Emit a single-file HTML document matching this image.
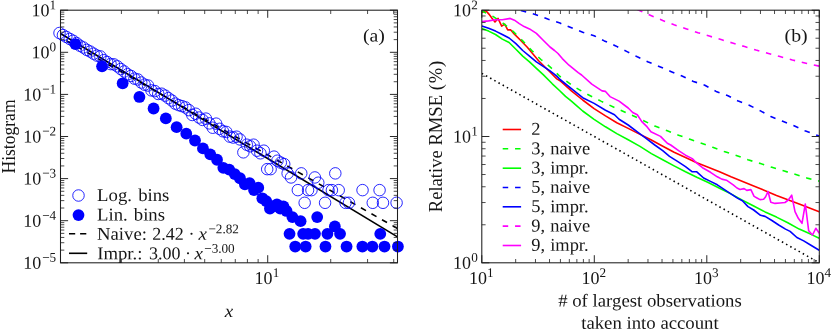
<!DOCTYPE html>
<html><head><meta charset="utf-8"><title>plot</title>
<style>
html,body{margin:0;padding:0;background:#fff;}
body{width:831px;height:330px;overflow:hidden;font-family:"Liberation Serif", serif;}
svg{display:block;will-change:transform;font-family:"Liberation Serif", serif;}
text{fill:#161616;}
</style></head><body>
<svg width="831" height="330" viewBox="0 0 831 330">
<rect width="831" height="330" fill="#fff"/>
<clipPath id="cl"><rect x="60.5" y="10.2" width="337.0" height="252.60000000000002"/></clipPath>
<g clip-path="url(#cl)">
<line x1="60.5" y1="37.33" x2="397.5" y2="228.49" stroke="#000" stroke-width="1.6" stroke-dasharray="5.8 6.3" stroke-dashoffset="5.5"/>
<line x1="60.5" y1="33.48" x2="397.5" y2="236.84" stroke="#000" stroke-width="1.6"/>
</g>
<circle cx="59.50" cy="33.00" r="5.75" fill="none" stroke="#0000ff" stroke-width="0.85"/>
<circle cx="62.91" cy="35.07" r="5.75" fill="none" stroke="#0000ff" stroke-width="0.85"/>
<circle cx="66.31" cy="36.91" r="5.75" fill="none" stroke="#0000ff" stroke-width="0.85"/>
<circle cx="69.72" cy="38.93" r="5.75" fill="none" stroke="#0000ff" stroke-width="0.85"/>
<circle cx="73.12" cy="40.73" r="5.75" fill="none" stroke="#0000ff" stroke-width="0.85"/>
<circle cx="76.53" cy="43.06" r="5.75" fill="none" stroke="#0000ff" stroke-width="0.85"/>
<circle cx="79.93" cy="45.71" r="5.75" fill="none" stroke="#0000ff" stroke-width="0.85"/>
<circle cx="83.33" cy="47.47" r="5.75" fill="none" stroke="#0000ff" stroke-width="0.85"/>
<circle cx="86.74" cy="49.86" r="5.75" fill="none" stroke="#0000ff" stroke-width="0.85"/>
<circle cx="90.14" cy="51.51" r="5.75" fill="none" stroke="#0000ff" stroke-width="0.85"/>
<circle cx="93.55" cy="53.66" r="5.75" fill="none" stroke="#0000ff" stroke-width="0.85"/>
<circle cx="96.95" cy="55.59" r="5.75" fill="none" stroke="#0000ff" stroke-width="0.85"/>
<circle cx="100.36" cy="56.41" r="5.75" fill="none" stroke="#0000ff" stroke-width="0.85"/>
<circle cx="103.77" cy="60.19" r="5.75" fill="none" stroke="#0000ff" stroke-width="0.85"/>
<circle cx="107.17" cy="62.01" r="5.75" fill="none" stroke="#0000ff" stroke-width="0.85"/>
<circle cx="110.57" cy="64.08" r="5.75" fill="none" stroke="#0000ff" stroke-width="0.85"/>
<circle cx="113.98" cy="64.38" r="5.75" fill="none" stroke="#0000ff" stroke-width="0.85"/>
<circle cx="117.38" cy="66.33" r="5.75" fill="none" stroke="#0000ff" stroke-width="0.85"/>
<circle cx="120.79" cy="69.07" r="5.75" fill="none" stroke="#0000ff" stroke-width="0.85"/>
<circle cx="124.19" cy="71.48" r="5.75" fill="none" stroke="#0000ff" stroke-width="0.85"/>
<circle cx="127.60" cy="74.26" r="5.75" fill="none" stroke="#0000ff" stroke-width="0.85"/>
<circle cx="131.00" cy="75.98" r="5.75" fill="none" stroke="#0000ff" stroke-width="0.85"/>
<circle cx="134.41" cy="78.61" r="5.75" fill="none" stroke="#0000ff" stroke-width="0.85"/>
<circle cx="137.81" cy="79.45" r="5.75" fill="none" stroke="#0000ff" stroke-width="0.85"/>
<circle cx="141.22" cy="82.52" r="5.75" fill="none" stroke="#0000ff" stroke-width="0.85"/>
<circle cx="144.62" cy="84.68" r="5.75" fill="none" stroke="#0000ff" stroke-width="0.85"/>
<circle cx="148.03" cy="85.53" r="5.75" fill="none" stroke="#0000ff" stroke-width="0.85"/>
<circle cx="151.44" cy="90.40" r="5.75" fill="none" stroke="#0000ff" stroke-width="0.85"/>
<circle cx="154.84" cy="91.09" r="5.75" fill="none" stroke="#0000ff" stroke-width="0.85"/>
<circle cx="158.25" cy="93.97" r="5.75" fill="none" stroke="#0000ff" stroke-width="0.85"/>
<circle cx="161.65" cy="93.71" r="5.75" fill="none" stroke="#0000ff" stroke-width="0.85"/>
<circle cx="165.06" cy="95.58" r="5.75" fill="none" stroke="#0000ff" stroke-width="0.85"/>
<circle cx="168.46" cy="98.15" r="5.75" fill="none" stroke="#0000ff" stroke-width="0.85"/>
<circle cx="171.87" cy="100.53" r="5.75" fill="none" stroke="#0000ff" stroke-width="0.85"/>
<circle cx="175.27" cy="103.64" r="5.75" fill="none" stroke="#0000ff" stroke-width="0.85"/>
<circle cx="178.68" cy="105.15" r="5.75" fill="none" stroke="#0000ff" stroke-width="0.85"/>
<circle cx="182.08" cy="106.17" r="5.75" fill="none" stroke="#0000ff" stroke-width="0.85"/>
<circle cx="185.49" cy="107.42" r="5.75" fill="none" stroke="#0000ff" stroke-width="0.85"/>
<circle cx="188.89" cy="110.13" r="5.75" fill="none" stroke="#0000ff" stroke-width="0.85"/>
<circle cx="192.29" cy="114.98" r="5.75" fill="none" stroke="#0000ff" stroke-width="0.85"/>
<circle cx="195.70" cy="113.73" r="5.75" fill="none" stroke="#0000ff" stroke-width="0.85"/>
<circle cx="199.10" cy="117.53" r="5.75" fill="none" stroke="#0000ff" stroke-width="0.85"/>
<circle cx="202.51" cy="119.90" r="5.75" fill="none" stroke="#0000ff" stroke-width="0.85"/>
<circle cx="205.91" cy="118.61" r="5.75" fill="none" stroke="#0000ff" stroke-width="0.85"/>
<circle cx="209.32" cy="123.37" r="5.75" fill="none" stroke="#0000ff" stroke-width="0.85"/>
<circle cx="212.72" cy="127.72" r="5.75" fill="none" stroke="#0000ff" stroke-width="0.85"/>
<circle cx="216.13" cy="123.64" r="5.75" fill="none" stroke="#0000ff" stroke-width="0.85"/>
<circle cx="219.53" cy="128.83" r="5.75" fill="none" stroke="#0000ff" stroke-width="0.85"/>
<circle cx="222.94" cy="131.29" r="5.75" fill="none" stroke="#0000ff" stroke-width="0.85"/>
<circle cx="226.34" cy="131.95" r="5.75" fill="none" stroke="#0000ff" stroke-width="0.85"/>
<circle cx="229.75" cy="136.60" r="5.75" fill="none" stroke="#0000ff" stroke-width="0.85"/>
<circle cx="233.16" cy="137.54" r="5.75" fill="none" stroke="#0000ff" stroke-width="0.85"/>
<circle cx="236.56" cy="136.69" r="5.75" fill="none" stroke="#0000ff" stroke-width="0.85"/>
<circle cx="239.97" cy="139.43" r="5.75" fill="none" stroke="#0000ff" stroke-width="0.85"/>
<circle cx="243.37" cy="152.34" r="5.75" fill="none" stroke="#0000ff" stroke-width="0.85"/>
<circle cx="246.77" cy="144.69" r="5.75" fill="none" stroke="#0000ff" stroke-width="0.85"/>
<circle cx="250.18" cy="146.28" r="5.75" fill="none" stroke="#0000ff" stroke-width="0.85"/>
<circle cx="253.58" cy="144.69" r="5.75" fill="none" stroke="#0000ff" stroke-width="0.85"/>
<circle cx="256.99" cy="150.68" r="5.75" fill="none" stroke="#0000ff" stroke-width="0.85"/>
<circle cx="260.39" cy="153.29" r="5.75" fill="none" stroke="#0000ff" stroke-width="0.85"/>
<circle cx="263.80" cy="150.68" r="5.75" fill="none" stroke="#0000ff" stroke-width="0.85"/>
<circle cx="267.20" cy="169.15" r="5.75" fill="none" stroke="#0000ff" stroke-width="0.85"/>
<circle cx="270.61" cy="169.15" r="5.75" fill="none" stroke="#0000ff" stroke-width="0.85"/>
<circle cx="274.01" cy="156.62" r="5.75" fill="none" stroke="#0000ff" stroke-width="0.85"/>
<circle cx="277.42" cy="160.70" r="5.75" fill="none" stroke="#0000ff" stroke-width="0.85"/>
<circle cx="280.82" cy="162.63" r="5.75" fill="none" stroke="#0000ff" stroke-width="0.85"/>
<circle cx="284.23" cy="164.11" r="5.75" fill="none" stroke="#0000ff" stroke-width="0.85"/>
<circle cx="287.63" cy="173.37" r="5.75" fill="none" stroke="#0000ff" stroke-width="0.85"/>
<circle cx="291.04" cy="177.45" r="5.75" fill="none" stroke="#0000ff" stroke-width="0.85"/>
<circle cx="297.85" cy="190.13" r="5.75" fill="none" stroke="#0000ff" stroke-width="0.85"/>
<circle cx="301.25" cy="173.37" r="5.75" fill="none" stroke="#0000ff" stroke-width="0.85"/>
<circle cx="304.66" cy="202.80" r="5.75" fill="none" stroke="#0000ff" stroke-width="0.85"/>
<circle cx="308.06" cy="190.13" r="5.75" fill="none" stroke="#0000ff" stroke-width="0.85"/>
<circle cx="311.47" cy="190.13" r="5.75" fill="none" stroke="#0000ff" stroke-width="0.85"/>
<circle cx="314.88" cy="177.45" r="5.75" fill="none" stroke="#0000ff" stroke-width="0.85"/>
<circle cx="318.28" cy="182.71" r="5.75" fill="none" stroke="#0000ff" stroke-width="0.85"/>
<circle cx="325.09" cy="202.80" r="5.75" fill="none" stroke="#0000ff" stroke-width="0.85"/>
<circle cx="328.50" cy="190.13" r="5.75" fill="none" stroke="#0000ff" stroke-width="0.85"/>
<circle cx="331.90" cy="190.13" r="5.75" fill="none" stroke="#0000ff" stroke-width="0.85"/>
<circle cx="335.31" cy="173.37" r="5.75" fill="none" stroke="#0000ff" stroke-width="0.85"/>
<circle cx="338.71" cy="190.13" r="5.75" fill="none" stroke="#0000ff" stroke-width="0.85"/>
<circle cx="345.52" cy="202.80" r="5.75" fill="none" stroke="#0000ff" stroke-width="0.85"/>
<circle cx="348.93" cy="202.80" r="5.75" fill="none" stroke="#0000ff" stroke-width="0.85"/>
<circle cx="362.54" cy="190.13" r="5.75" fill="none" stroke="#0000ff" stroke-width="0.85"/>
<circle cx="372.76" cy="202.80" r="5.75" fill="none" stroke="#0000ff" stroke-width="0.85"/>
<circle cx="379.57" cy="190.13" r="5.75" fill="none" stroke="#0000ff" stroke-width="0.85"/>
<circle cx="382.97" cy="202.80" r="5.75" fill="none" stroke="#0000ff" stroke-width="0.85"/>
<circle cx="396.59" cy="202.80" r="5.75" fill="none" stroke="#0000ff" stroke-width="0.85"/>
<circle cx="75.40" cy="44.09" r="5.9" fill="#0000ff"/>
<circle cx="102.06" cy="66.35" r="5.9" fill="#0000ff"/>
<circle cx="122.65" cy="83.28" r="5.9" fill="#0000ff"/>
<circle cx="139.43" cy="96.97" r="5.9" fill="#0000ff"/>
<circle cx="153.59" cy="108.48" r="5.9" fill="#0000ff"/>
<circle cx="165.84" cy="118.41" r="5.9" fill="#0000ff"/>
<circle cx="176.63" cy="127.14" r="5.9" fill="#0000ff"/>
<circle cx="186.27" cy="133.66" r="5.9" fill="#0000ff"/>
<circle cx="194.99" cy="140.51" r="5.9" fill="#0000ff"/>
<circle cx="202.95" cy="148.40" r="5.9" fill="#0000ff"/>
<circle cx="210.26" cy="154.30" r="5.9" fill="#0000ff"/>
<circle cx="217.03" cy="159.76" r="5.9" fill="#0000ff"/>
<circle cx="223.33" cy="167.85" r="5.9" fill="#0000ff"/>
<circle cx="229.23" cy="169.59" r="5.9" fill="#0000ff"/>
<circle cx="234.76" cy="174.05" r="5.9" fill="#0000ff"/>
<circle cx="239.97" cy="178.25" r="5.9" fill="#0000ff"/>
<circle cx="244.91" cy="184.36" r="5.9" fill="#0000ff"/>
<circle cx="249.59" cy="183.18" r="5.9" fill="#0000ff"/>
<circle cx="254.03" cy="190.03" r="5.9" fill="#0000ff"/>
<circle cx="258.28" cy="187.69" r="5.9" fill="#0000ff"/>
<circle cx="262.33" cy="198.29" r="5.9" fill="#0000ff"/>
<circle cx="266.21" cy="201.11" r="5.9" fill="#0000ff"/>
<circle cx="269.93" cy="208.52" r="5.9" fill="#0000ff"/>
<circle cx="273.50" cy="206.37" r="5.9" fill="#0000ff"/>
<circle cx="276.94" cy="204.44" r="5.9" fill="#0000ff"/>
<circle cx="280.26" cy="208.52" r="5.9" fill="#0000ff"/>
<circle cx="283.45" cy="206.37" r="5.9" fill="#0000ff"/>
<circle cx="286.54" cy="210.96" r="5.9" fill="#0000ff"/>
<circle cx="289.53" cy="233.87" r="5.9" fill="#0000ff"/>
<circle cx="292.42" cy="217.12" r="5.9" fill="#0000ff"/>
<circle cx="295.22" cy="246.54" r="5.9" fill="#0000ff"/>
<circle cx="300.58" cy="221.20" r="5.9" fill="#0000ff"/>
<circle cx="303.15" cy="233.87" r="5.9" fill="#0000ff"/>
<circle cx="305.64" cy="246.54" r="5.9" fill="#0000ff"/>
<circle cx="308.07" cy="233.87" r="5.9" fill="#0000ff"/>
<circle cx="314.99" cy="233.87" r="5.9" fill="#0000ff"/>
<circle cx="317.19" cy="217.12" r="5.9" fill="#0000ff"/>
<circle cx="325.47" cy="246.54" r="5.9" fill="#0000ff"/>
<circle cx="327.42" cy="233.87" r="5.9" fill="#0000ff"/>
<circle cx="334.86" cy="226.46" r="5.9" fill="#0000ff"/>
<circle cx="340.06" cy="233.87" r="5.9" fill="#0000ff"/>
<circle cx="346.56" cy="246.54" r="5.9" fill="#0000ff"/>
<circle cx="362.37" cy="246.54" r="5.9" fill="#0000ff"/>
<circle cx="372.35" cy="246.54" r="5.9" fill="#0000ff"/>
<circle cx="380.26" cy="233.87" r="5.9" fill="#0000ff"/>
<circle cx="384.50" cy="246.54" r="5.9" fill="#0000ff"/>
<circle cx="397.92" cy="246.54" r="5.9" fill="#0000ff"/>
<path d="M267.71 262.8v-7.6M267.71 10.2v7.6M60.5 10.20h7.6M397.5 10.20h-7.6M60.5 52.30h7.6M397.5 52.30h-7.6M60.5 94.40h7.6M397.5 94.40h-7.6M60.5 136.50h7.6M397.5 136.50h-7.6M60.5 178.60h7.6M397.5 178.60h-7.6M60.5 220.70h7.6M397.5 220.70h-7.6M60.5 262.80h7.6M397.5 262.80h-7.6" stroke="#1e1e1e" stroke-width="0.95" fill="none"/>
<path d="M121.41 262.8v-3.8M121.41 10.2v3.8M158.27 262.8v-3.8M158.27 10.2v3.8M184.42 262.8v-3.8M184.42 10.2v3.8M204.70 262.8v-3.8M204.70 10.2v3.8M221.27 262.8v-3.8M221.27 10.2v3.8M235.29 262.8v-3.8M235.29 10.2v3.8M247.42 262.8v-3.8M247.42 10.2v3.8M258.13 262.8v-3.8M258.13 10.2v3.8M330.71 262.8v-3.8M330.71 10.2v3.8M367.57 262.8v-3.8M367.57 10.2v3.8M393.72 262.8v-3.8M393.72 10.2v3.8M60.5 250.13h3.8M397.5 250.13h-3.8M60.5 242.71h3.8M397.5 242.71h-3.8M60.5 237.45h3.8M397.5 237.45h-3.8M60.5 233.37h3.8M397.5 233.37h-3.8M60.5 230.04h3.8M397.5 230.04h-3.8M60.5 227.22h3.8M397.5 227.22h-3.8M60.5 224.78h3.8M397.5 224.78h-3.8M60.5 222.63h3.8M397.5 222.63h-3.8M60.5 208.03h3.8M397.5 208.03h-3.8M60.5 200.61h3.8M397.5 200.61h-3.8M60.5 195.35h3.8M397.5 195.35h-3.8M60.5 191.27h3.8M397.5 191.27h-3.8M60.5 187.94h3.8M397.5 187.94h-3.8M60.5 185.12h3.8M397.5 185.12h-3.8M60.5 182.68h3.8M397.5 182.68h-3.8M60.5 180.53h3.8M397.5 180.53h-3.8M60.5 165.93h3.8M397.5 165.93h-3.8M60.5 158.51h3.8M397.5 158.51h-3.8M60.5 153.25h3.8M397.5 153.25h-3.8M60.5 149.17h3.8M397.5 149.17h-3.8M60.5 145.84h3.8M397.5 145.84h-3.8M60.5 143.02h3.8M397.5 143.02h-3.8M60.5 140.58h3.8M397.5 140.58h-3.8M60.5 138.43h3.8M397.5 138.43h-3.8M60.5 123.83h3.8M397.5 123.83h-3.8M60.5 116.41h3.8M397.5 116.41h-3.8M60.5 111.15h3.8M397.5 111.15h-3.8M60.5 107.07h3.8M397.5 107.07h-3.8M60.5 103.74h3.8M397.5 103.74h-3.8M60.5 100.92h3.8M397.5 100.92h-3.8M60.5 98.48h3.8M397.5 98.48h-3.8M60.5 96.33h3.8M397.5 96.33h-3.8M60.5 81.73h3.8M397.5 81.73h-3.8M60.5 74.31h3.8M397.5 74.31h-3.8M60.5 69.05h3.8M397.5 69.05h-3.8M60.5 64.97h3.8M397.5 64.97h-3.8M60.5 61.64h3.8M397.5 61.64h-3.8M60.5 58.82h3.8M397.5 58.82h-3.8M60.5 56.38h3.8M397.5 56.38h-3.8M60.5 54.23h3.8M397.5 54.23h-3.8M60.5 39.63h3.8M397.5 39.63h-3.8M60.5 32.21h3.8M397.5 32.21h-3.8M60.5 26.95h3.8M397.5 26.95h-3.8M60.5 22.87h3.8M397.5 22.87h-3.8M60.5 19.54h3.8M397.5 19.54h-3.8M60.5 16.72h3.8M397.5 16.72h-3.8M60.5 14.28h3.8M397.5 14.28h-3.8M60.5 12.13h3.8M397.5 12.13h-3.8" stroke="#1e1e1e" stroke-width="0.8" fill="none"/>
<rect x="60.5" y="10.2" width="337.0" height="252.60000000000002" fill="none" stroke="#1e1e1e" stroke-width="1.05"/>
<text transform="translate(56.20 16.20) rotate(0.03)" text-anchor="end" font-size="18">10<tspan dx="0.1" dy="-7.0" font-size="13.2">1</tspan></text>
<text transform="translate(56.20 58.30) rotate(0.03)" text-anchor="end" font-size="18">10<tspan dx="0.1" dy="-7.0" font-size="13.2">0</tspan></text>
<text transform="translate(56.20 100.40) rotate(0.03)" text-anchor="end" font-size="18">10<tspan dx="0.8" dy="-7.0" font-size="13.2">−1</tspan></text>
<text transform="translate(56.20 142.50) rotate(0.03)" text-anchor="end" font-size="18">10<tspan dx="0.8" dy="-7.0" font-size="13.2">−2</tspan></text>
<text transform="translate(56.20 184.60) rotate(0.03)" text-anchor="end" font-size="18">10<tspan dx="0.8" dy="-7.0" font-size="13.2">−3</tspan></text>
<text transform="translate(56.20 226.70) rotate(0.03)" text-anchor="end" font-size="18">10<tspan dx="0.8" dy="-7.0" font-size="13.2">−4</tspan></text>
<text transform="translate(56.20 268.80) rotate(0.03)" text-anchor="end" font-size="18">10<tspan dx="0.8" dy="-7.0" font-size="13.2">−5</tspan></text>
<text transform="translate(266.91 284.00) rotate(0.03)" text-anchor="middle" font-size="18">10<tspan dx="0.1" dy="-7.0" font-size="13.2">1</tspan></text>
<text transform="translate(229.00 317.00) rotate(0.03) scale(1.05 1)" text-anchor="middle" font-size="18" font-style="italic">x</text>
<text transform="translate(14.50 136.50) rotate(-90) scale(0.975 1)" text-anchor="middle" font-size="18">Histogram</text>
<text transform="translate(363.00 41.40) rotate(0.03) scale(1.1 1)" text-anchor="start" font-size="18">(a)</text>
<circle cx="78.5" cy="195.5" r="5.75" fill="none" stroke="#0000ff" stroke-width="0.85"/>
<circle cx="78.5" cy="215.1" r="5.9" fill="#0000ff"/>
<line x1="69" y1="233.8" x2="87.2" y2="233.8" stroke="#000" stroke-width="1.6" stroke-dasharray="6.2 4.9"/>
<line x1="69" y1="253.3" x2="87.2" y2="253.3" stroke="#000" stroke-width="1.6"/>
<text transform="translate(97.10 201.00) rotate(0.03) scale(1.04 1)" text-anchor="start" font-size="18">Log.<tspan dx="1.5"> bins</tspan></text>
<text transform="translate(97.10 220.40) rotate(0.03) scale(1.04 1)" text-anchor="start" font-size="18">Lin.<tspan dx="1.3"> bins</tspan></text>
<text transform="translate(97.00 239.80) rotate(0.03) scale(1.04 1)" text-anchor="start" font-size="18">Naive:</text>
<text transform="translate(152.20 239.80) rotate(0.03)" text-anchor="start" font-size="18">2.42</text>
<text transform="translate(188.60 239.80) rotate(0.03)" text-anchor="start" font-size="18">·</text>
<text transform="translate(198.60 239.80) rotate(0.03) scale(1.05 1)" text-anchor="start" font-size="18" font-style="italic">x</text>
<text transform="translate(208.40 233.30) rotate(0.03)" text-anchor="start" font-size="13.2">−2.82</text>
<text transform="translate(97.20 259.20) rotate(0.03) scale(1.04 1)" text-anchor="start" font-size="18">Impr.:</text>
<text transform="translate(149.00 259.20) rotate(0.03)" text-anchor="start" font-size="18">3.00</text>
<text transform="translate(185.00 259.20) rotate(0.03)" text-anchor="start" font-size="18">·</text>
<text transform="translate(194.40 259.20) rotate(0.03) scale(1.05 1)" text-anchor="start" font-size="18" font-style="italic">x</text>
<text transform="translate(204.20 252.70) rotate(0.03)" text-anchor="start" font-size="13.2">−3.00</text>
<clipPath id="cr"><rect x="481.8" y="10.2" width="337.49999999999994" height="252.60000000000002"/></clipPath>
<g clip-path="url(#cr)" fill="none" stroke-linejoin="round">
<path d="M481.6 12.6 L485.9 10.8 L488.9 14.1 L492.0 18.3 L495.0 22.0 L498.0 18.4 L501.7 26.2 L504.7 24.2 L507.7 29.9 L510.5 29.7 L514.4 34.1 L520.5 40.2 L527.3 47.3 L538.6 60.7 L550.0 72.0 L556.8 78.9 L560.0 80.7 L571.4 90.9 L582.7 100.0 L594.1 108.6 L605.5 115.9 L616.8 122.7 L628.2 128.4 L639.5 134.1 L650.9 139.8 L660.5 145.0 L674.1 152.3 L685.5 157.5 L696.8 162.7 L708.2 167.3 L719.5 171.8 L731.0 176.8 L753.7 185.9 L776.5 195.5 L799.2 204.1 L819.2 211.8" stroke="#ff0000" stroke-width="1.6"/>
<path d="M481.8 11.0 L493.0 16.4 L504.5 24.3 L513.6 31.8 L522.7 40.9 L531.8 50.5 L540.9 59.5 L550.0 66.8 L560.0 76.5 L573.6 86.4 L587.3 94.3 L600.9 101.1 L614.5 107.5 L628.2 113.6 L641.8 119.8 L654.8 126.1 L667.3 130.7 L678.6 135.2 L690.0 139.3 L701.4 143.2 L712.7 147.3 L724.1 151.4 L735.5 155.2 L748.0 159.8 L760.5 163.6 L771.9 167.3 L784.4 171.1 L795.8 174.5 L808.3 178.4 L819.2 181.1" stroke="#00ff00" stroke-width="1.6" stroke-dasharray="5.5 6.85" stroke-dashoffset="0.6"/>
<path d="M481.8 28.4 L488.6 31.1 L495.5 34.5 L502.3 39.1 L509.1 42.5 L515.9 49.3 L522.7 56.1 L529.5 61.8 L536.4 68.3 L543.2 74.6 L552.3 83.8 L560.0 91.0 L565.5 96.4 L571.4 101.2 L576.8 105.9 L582.7 111.0 L594.1 119.3 L605.5 126.8 L616.8 133.6 L628.2 139.8 L640.0 146.4 L651.4 153.6 L662.7 159.8 L674.1 165.9 L685.5 171.8 L696.8 177.3 L708.2 182.5 L719.5 188.2 L730.9 193.9 L742.4 200.2 L753.7 206.0 L765.1 211.9 L776.5 217.1 L787.8 222.7 L799.2 229.1 L810.5 234.1 L819.2 238.2" stroke="#00ff00" stroke-width="1.6"/>
<path d="M510.0 6.6 L522.7 11.0 L535.2 14.4 L547.7 19.1 L560.0 23.1 L570.2 27.3 L582.7 32.3 L594.1 35.7 L604.3 40.9 L615.7 45.9 L627.0 51.6 L637.3 56.8 L648.3 62.0 L659.1 66.4 L670.7 71.4 L682.0 76.1 L693.4 81.4 L704.8 85.2 L716.1 91.4 L727.5 95.5 L738.3 101.1 L749.2 105.2 L760.5 110.9 L770.8 116.6 L782.1 121.1 L793.5 125.5 L804.9 130.7 L819.2 136.1" stroke="#0000ff" stroke-width="1.6" stroke-dasharray="5.5 6.85" stroke-dashoffset="0.8"/>
<path d="M481.8 25.9 L488.6 28.2 L495.5 31.1 L502.3 34.5 L509.1 38.0 L515.9 43.6 L522.7 50.5 L529.5 56.1 L536.4 61.8 L543.2 66.4 L550.0 70.9 L556.8 76.1 L560.0 79.5 L571.4 88.6 L582.7 97.7 L594.1 103.4 L605.5 110.2 L614.5 114.8 L619.1 119.3 L628.2 125.0 L637.3 131.8 L646.4 138.6 L654.8 145.0 L662.7 150.7 L669.5 156.4 L677.5 161.4 L685.5 166.6 L692.3 171.8 L696.8 171.8 L703.6 178.0 L710.5 181.4 L717.3 184.8 L724.1 189.3 L730.9 193.9 L737.8 198.4 L742.4 200.7 L748.0 206.6 L753.7 210.0 L760.5 215.3 L765.1 216.4 L771.9 220.5 L778.7 225.0 L785.5 229.1 L790.1 231.4 L796.9 237.5 L803.7 240.9 L810.5 245.0 L819.2 250.2" stroke="#0000ff" stroke-width="1.6"/>
<path d="M628.0 5.5 L639.0 10.3 L651.4 15.7 L662.7 20.5 L674.1 24.8 L686.6 28.9 L698.0 32.7 L709.3 36.1 L721.8 39.8 L732.5 43.0 L744.6 46.6 L756.0 50.0 L768.5 53.4 L779.9 56.6 L792.4 60.0 L804.9 63.0 L819.2 66.1" stroke="#ff00ff" stroke-width="1.6" stroke-dasharray="5.5 6.85" stroke-dashoffset="2.2"/>
<path d="M481.8 21.6 L488.6 20.9 L495.5 19.8 L502.3 19.8 L509.1 18.6 L510.2 18.4 L514.4 20.2 L519.3 23.6 L524.1 26.6 L529.5 28.9 L536.4 33.4 L543.2 40.2 L550.0 47.0 L554.5 50.5 L558.0 53.5 L562.3 58.6 L569.0 65.2 L578.2 72.7 L581.6 75.0 L591.8 84.1 L602.0 90.9 L605.5 91.4 L610.0 96.6 L619.1 101.1 L628.2 108.0 L632.7 112.5 L637.3 114.8 L641.8 121.6 L646.4 126.1 L650.9 131.8 L660.5 136.4 L667.3 143.2 L670.7 145.0 L678.6 150.7 L685.5 155.2 L692.3 158.6 L696.8 163.2 L702.5 167.7 L710.5 172.3 L717.3 176.8 L721.8 179.1 L726.4 180.2 L733.2 184.8 L737.0 188.0 L740.0 189.5 L744.1 188.6 L746.8 190.4 L750.9 189.6 L754.1 196.4 L757.0 198.0 L760.0 199.6 L763.6 199.3 L765.5 197.0 L768.0 191.5 L770.8 202.3 L775.0 203.4 L780.0 203.0 L785.0 202.5 L788.3 200.0 L791.7 195.2 L795.0 211.7 L798.3 218.3 L802.0 223.3 L805.3 204.0 L808.7 230.8 L812.5 235.0 L815.8 228.3 L819.3 233.3" stroke="#ff00ff" stroke-width="1.6"/>
<line x1="481.8" y1="73.35" x2="819.3" y2="262.80" stroke="#000" stroke-width="1.6" stroke-dasharray="1.5 3.28"/>
</g>
<path d="M481.80 262.8v-7.6M481.80 10.2v7.6M594.30 262.8v-7.6M594.30 10.2v7.6M706.80 262.8v-7.6M706.80 10.2v7.6M819.30 262.8v-7.6M819.30 10.2v7.6M481.8 10.20h7.6M819.3 10.20h-7.6M481.8 136.50h7.6M819.3 136.50h-7.6M481.8 262.80h7.6M819.3 262.80h-7.6" stroke="#1e1e1e" stroke-width="0.95" fill="none"/>
<path d="M515.67 262.8v-3.8M515.67 10.2v3.8M535.48 262.8v-3.8M535.48 10.2v3.8M549.53 262.8v-3.8M549.53 10.2v3.8M560.43 262.8v-3.8M560.43 10.2v3.8M569.34 262.8v-3.8M569.34 10.2v3.8M576.87 262.8v-3.8M576.87 10.2v3.8M583.40 262.8v-3.8M583.40 10.2v3.8M589.15 262.8v-3.8M589.15 10.2v3.8M628.17 262.8v-3.8M628.17 10.2v3.8M647.98 262.8v-3.8M647.98 10.2v3.8M662.03 262.8v-3.8M662.03 10.2v3.8M672.93 262.8v-3.8M672.93 10.2v3.8M681.84 262.8v-3.8M681.84 10.2v3.8M689.37 262.8v-3.8M689.37 10.2v3.8M695.90 262.8v-3.8M695.90 10.2v3.8M701.65 262.8v-3.8M701.65 10.2v3.8M740.67 262.8v-3.8M740.67 10.2v3.8M760.48 262.8v-3.8M760.48 10.2v3.8M774.53 262.8v-3.8M774.53 10.2v3.8M785.43 262.8v-3.8M785.43 10.2v3.8M794.34 262.8v-3.8M794.34 10.2v3.8M801.87 262.8v-3.8M801.87 10.2v3.8M808.40 262.8v-3.8M808.40 10.2v3.8M814.15 262.8v-3.8M814.15 10.2v3.8M481.8 224.78h3.8M819.3 224.78h-3.8M481.8 202.54h3.8M819.3 202.54h-3.8M481.8 186.76h3.8M819.3 186.76h-3.8M481.8 174.52h3.8M819.3 174.52h-3.8M481.8 164.52h3.8M819.3 164.52h-3.8M481.8 156.06h3.8M819.3 156.06h-3.8M481.8 148.74h3.8M819.3 148.74h-3.8M481.8 142.28h3.8M819.3 142.28h-3.8M481.8 98.48h3.8M819.3 98.48h-3.8M481.8 76.24h3.8M819.3 76.24h-3.8M481.8 60.46h3.8M819.3 60.46h-3.8M481.8 48.22h3.8M819.3 48.22h-3.8M481.8 38.22h3.8M819.3 38.22h-3.8M481.8 29.76h3.8M819.3 29.76h-3.8M481.8 22.44h3.8M819.3 22.44h-3.8M481.8 15.98h3.8M819.3 15.98h-3.8" stroke="#1e1e1e" stroke-width="0.8" fill="none"/>
<rect x="481.8" y="10.2" width="337.49999999999994" height="252.60000000000002" fill="none" stroke="#1e1e1e" stroke-width="1.05"/>
<text transform="translate(477.80 16.20) rotate(0.03)" text-anchor="end" font-size="18">10<tspan dx="0.1" dy="-7.0" font-size="13.2">2</tspan></text>
<text transform="translate(477.80 142.50) rotate(0.03)" text-anchor="end" font-size="18">10<tspan dx="0.1" dy="-7.0" font-size="13.2">1</tspan></text>
<text transform="translate(477.80 268.80) rotate(0.03)" text-anchor="end" font-size="18">10<tspan dx="0.1" dy="-7.0" font-size="13.2">0</tspan></text>
<text transform="translate(481.30 284.00) rotate(0.03)" text-anchor="middle" font-size="18">10<tspan dx="0.1" dy="-7.0" font-size="13.2">1</tspan></text>
<text transform="translate(593.80 284.00) rotate(0.03)" text-anchor="middle" font-size="18">10<tspan dx="0.1" dy="-7.0" font-size="13.2">2</tspan></text>
<text transform="translate(706.30 284.00) rotate(0.03)" text-anchor="middle" font-size="18">10<tspan dx="0.1" dy="-7.0" font-size="13.2">3</tspan></text>
<text transform="translate(818.80 284.00) rotate(0.03)" text-anchor="middle" font-size="18">10<tspan dx="0.1" dy="-7.0" font-size="13.2">4</tspan></text>
<text transform="translate(649.95 306.50) rotate(0.03) scale(1.043 1)" text-anchor="middle" font-size="18"># of largest observations</text>
<text transform="translate(649.95 328.70) rotate(0.03) scale(1.043 1)" text-anchor="middle" font-size="18">taken into account</text>
<text transform="translate(441.80 136.50) rotate(-90) scale(1.035 1)" text-anchor="middle" font-size="18">Relative RMSE (<tspan dx="0.8">%</tspan><tspan dx="0.8">)</tspan></text>
<text transform="translate(784.60 41.40) rotate(0.03) scale(1.1 1)" text-anchor="start" font-size="18">(b)</text>
<line x1="502.7" y1="129.5" x2="521.1" y2="129.5" stroke="#ff0000" stroke-width="1.6"/>
<text transform="translate(531.20 134.80) rotate(0.03) scale(1.025 1)" text-anchor="start" font-size="18">2</text>
<line x1="502.7" y1="148.8" x2="521.1" y2="148.8" stroke="#00ff00" stroke-width="1.6" stroke-dasharray="5.5 6.85"/>
<text transform="translate(531.20 154.13) rotate(0.03) scale(1.025 1)" text-anchor="start" font-size="18">3,<tspan dx="0.5"> </tspan>naive</text>
<line x1="502.7" y1="168.2" x2="521.1" y2="168.2" stroke="#00ff00" stroke-width="1.6"/>
<text transform="translate(531.20 173.46) rotate(0.03) scale(1.025 1)" text-anchor="start" font-size="18">3,<tspan dx="0.5"> </tspan>impr.</text>
<line x1="502.7" y1="187.5" x2="521.1" y2="187.5" stroke="#0000ff" stroke-width="1.6" stroke-dasharray="5.5 6.85"/>
<text transform="translate(531.20 192.79) rotate(0.03) scale(1.025 1)" text-anchor="start" font-size="18">5,<tspan dx="0.5"> </tspan>naive</text>
<line x1="502.7" y1="206.8" x2="521.1" y2="206.8" stroke="#0000ff" stroke-width="1.6"/>
<text transform="translate(531.20 212.12) rotate(0.03) scale(1.025 1)" text-anchor="start" font-size="18">5,<tspan dx="0.5"> </tspan>impr.</text>
<line x1="502.7" y1="226.1" x2="521.1" y2="226.1" stroke="#ff00ff" stroke-width="1.6" stroke-dasharray="5.5 6.85"/>
<text transform="translate(531.20 231.45) rotate(0.03) scale(1.025 1)" text-anchor="start" font-size="18">9,<tspan dx="0.5"> </tspan>naive</text>
<line x1="502.7" y1="245.5" x2="521.1" y2="245.5" stroke="#ff00ff" stroke-width="1.6"/>
<text transform="translate(531.20 250.78) rotate(0.03) scale(1.025 1)" text-anchor="start" font-size="18">9,<tspan dx="0.5"> </tspan>impr.</text>
</svg>
</body></html>
